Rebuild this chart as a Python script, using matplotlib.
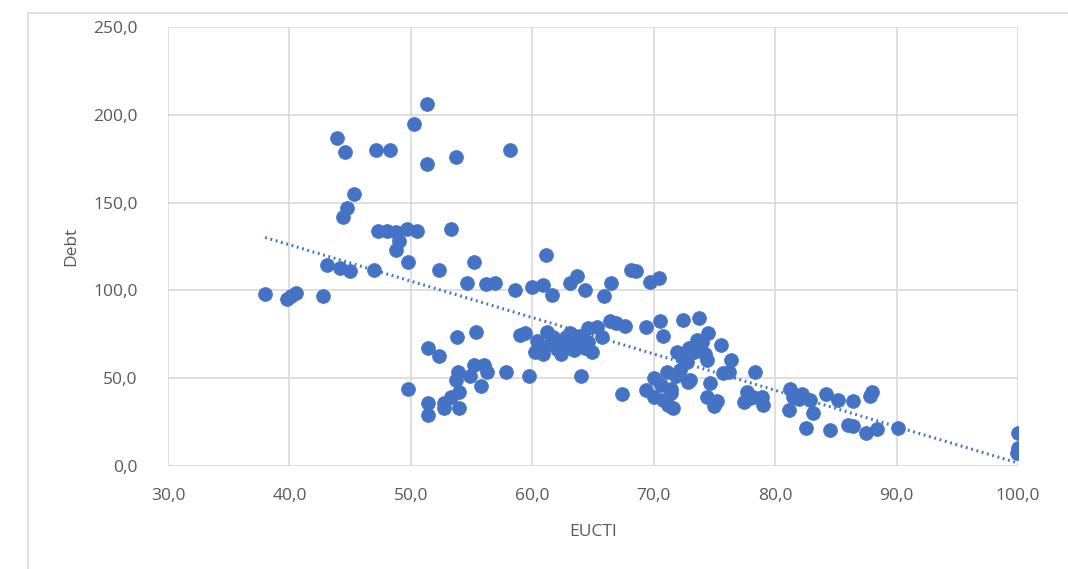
import numpy as np
import matplotlib
matplotlib.use("Agg")
import matplotlib.pyplot as plt
from matplotlib.ticker import FuncFormatter
from matplotlib.patches import Rectangle

# EUCTI score per observation and the matching debt level
eucti = [
    38.0, 39.8, 40.1, 40.5, 42.8, 43.1, 43.9, 44.2, 44.4, 44.6,
    44.7, 45.0, 45.3, 47.0, 47.1, 47.3, 48.0, 48.3, 48.8, 48.8,
    49.0, 49.7, 49.8, 49.8, 50.3, 50.5, 51.3, 51.3, 51.4, 51.4,
    51.4, 52.3, 52.3, 52.7, 52.7, 53.3, 53.3, 53.7, 53.7, 53.8,
    53.9, 54.0, 54.0, 54.6, 54.9, 55.2, 55.2, 55.4, 55.8, 56.0,
    56.2, 56.3, 56.9, 57.8, 58.2, 58.6, 59.0, 59.4, 59.7, 60.0,
    60.2, 60.4, 60.9, 60.9, 61.0, 61.1, 61.2, 61.6, 61.7, 62.1,
    62.4, 62.5, 62.8, 63.1, 63.1, 63.4, 63.5, 63.7, 63.8, 64.0,
    64.0, 64.3, 64.3, 64.6, 64.9, 65.3, 65.7, 65.9, 66.4, 66.5,
    66.9, 67.4, 67.6, 68.1, 68.5, 69.4, 69.4, 69.7, 70.0, 70.0,
    70.4, 70.5, 70.8, 70.8, 71.1, 71.2, 71.4, 71.6, 71.8, 71.9,
    72.2, 72.4, 72.7, 72.8, 73.0, 73.3, 73.7, 73.7, 74.2, 74.4,
    74.4, 74.5, 74.6, 75.0, 75.5, 75.7, 76.2, 76.4, 77.4, 77.7,
    78.2, 78.3, 78.9, 79.0, 81.1, 81.2, 81.5, 82.2, 82.5, 82.9,
    83.1, 84.2, 84.5, 85.2, 86.0, 86.4, 86.4, 87.5, 87.8, 88.0,
    88.4, 90.1, 100.0, 100.0, 99.9,
    61.5, 62.0, 62.9, 63.9, 64.6, 60.6, 72.9, 73.6, 74.0, 72.3,
    70.6, 71.4, 75.2, 77.9, 82.0,
]
debt = [
    98.0, 95.0, 97.0, 98.5, 97.0, 114.5, 186.6, 112.6, 142.0, 179.0,
    147.0, 111.0, 155.0, 111.6, 180.0, 134.0, 134.0, 180.0, 133.0, 123.0,
    128.0, 135.0, 116.0, 44.0, 195.0, 134.0, 206.0, 172.0, 67.0, 35.7,
    29.0, 111.6, 62.6, 35.7, 33.0, 135.0, 39.5, 176.0, 49.0, 73.7,
    53.7, 42.0, 33.0, 104.0, 51.0, 116.0, 57.5, 76.5, 45.6, 57.5,
    103.6, 53.7, 104.0, 53.7, 180.0, 100.0, 74.6, 75.5, 51.0, 101.7,
    65.0, 71.0, 103.0, 64.0, 68.0, 120.0, 76.5, 97.4, 73.7, 69.0,
    64.0, 71.0, 73.7, 104.0, 75.5, 66.0, 69.0, 108.0, 71.8, 51.0,
    73.0, 100.0, 67.0, 78.4, 65.0, 79.3, 73.7, 97.0, 82.3, 104.0,
    81.3, 41.0, 80.0, 111.6, 111.0, 79.3, 43.0, 105.0, 50.0, 39.5,
    107.0, 82.3, 74.0, 37.6, 53.7, 34.7, 44.0, 33.0, 51.0, 65.0,
    54.7, 83.0, 59.5, 48.0, 49.0, 65.0, 84.0, 69.0, 64.0, 60.4,
    39.5, 75.5, 47.0, 34.0, 69.0, 52.8, 53.7, 60.4, 36.6, 42.0,
    39.5, 53.7, 39.5, 34.7, 32.0, 44.0, 39.5, 41.0, 21.4, 37.6,
    30.0, 41.0, 20.5, 37.6, 23.3, 37.0, 22.8, 18.6, 40.0, 42.0,
    21.0, 21.5, 18.6, 10.0, 7.2,
    70.0, 66.5, 68.0, 74.0, 70.5, 68.5, 67.0, 72.0, 70.5, 62.0,
    46.0, 41.5, 37.0, 38.5, 38.0,
]

x_ticks = [30, 40, 50, 60, 70, 80, 90, 100]
y_ticks = [0, 50, 100, 150, 200, 250]

blue = "#4472c4"
grid_col = "#d9d9d9"
text_col = "#595959"

plt.rcParams["font.family"] = ["Open Sans", "DejaVu Sans"]

fig = plt.figure(figsize=(10.68, 5.69), dpi=100)
ax = fig.add_axes([168 / 1068, 1 - 466 / 569, 850 / 1068, 439 / 569])

# outer chart frame
fig.patches.append(Rectangle((28 / 1068, -0.1), 1.2, 1 - 13 / 569 + 0.1,
                             transform=fig.transFigure, fill=False,
                             edgecolor="#d9d9d9", linewidth=1.2))

x = np.array(eucti)
y = np.array(debt)
ax.scatter(x, y, s=100, color=blue, edgecolors=blue, linewidths=0.5,
           zorder=3)

# linear trend line over the data range
slope, icpt = np.polyfit(x, y, 1)
xs = np.array([x.min(), x.max()])
ax.plot(xs, slope * xs + icpt, color=blue, linewidth=2.2,
        linestyle=(0, (0.6, 1.2)), zorder=2)

ax.set_xlim(30, 100)
ax.set_ylim(0, 250)
ax.set_xticks(x_ticks)
ax.set_yticks(y_ticks)
comma = FuncFormatter(lambda v, p: f"{v:.1f}".replace(".", ","))
ax.xaxis.set_major_formatter(comma)
ax.yaxis.set_major_formatter(comma)
ax.grid(True, color=grid_col, linewidth=1.2)
ax.set_axisbelow(True)
for s in ax.spines.values():
    s.set_visible(False)
ax.tick_params(axis="x", length=0, labelsize=12.5, colors=text_col, pad=16)
ax.tick_params(axis="y", length=0, labelsize=12.5, colors=text_col, pad=22)
ax.set_xlabel("EUCTI", fontsize=12.5, color=text_col, labelpad=14)
ax.set_ylabel("Debt", fontsize=12.5, color=text_col, labelpad=10)

fig.savefig("out.png", dpi=100)
